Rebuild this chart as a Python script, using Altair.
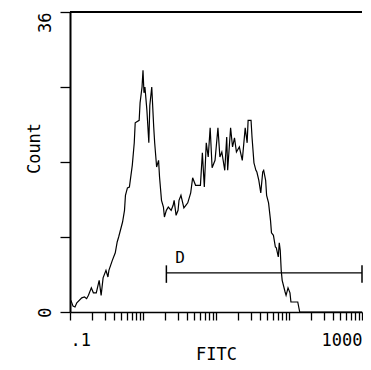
import altair as alt
import pandas as pd

# Histogram trace (FITC intensity, event count)
fitc = [0.103, 0.110, 0.117, 0.124, 0.145, 0.158, 0.169, 0.179, 0.196, 0.209,
        0.229, 0.251, 0.267, 0.284, 0.311, 0.331, 0.341, 0.380, 0.417, 0.443,
        0.464, 0.525, 0.558, 0.575, 0.612, 0.651, 0.713, 0.759, 0.782, 0.886,
        0.912, 0.970, 1.000, 1.031, 1.063, 1.131, 1.202, 1.240, 1.318, 1.402,
        1.445, 1.537, 1.634, 1.685, 1.792, 1.905, 1.965, 2.089, 2.222, 2.432,
        2.586, 2.671, 2.840, 3.020, 3.114, 3.311, 3.631, 3.861, 4.105, 4.502,
        4.786, 5.248, 6.119, 6.506, 6.918, 7.356, 7.822, 8.318, 8.845, 9.698,
        10.63, 11.31, 12.02, 13.18, 14.02, 14.45, 15.85, 16.85, 17.92, 19.05,
        20.89, 22.91, 25.12, 26.71, 27.54, 30.20, 31.14, 33.11, 35.21, 36.31,
        38.61, 41.05, 43.65, 45.02, 47.86, 49.35, 52.48, 55.81, 57.54, 61.19,
        65.06, 67.08, 71.34, 73.56, 75.86, 78.22, 80.66, 88.45, 91.20, 96.98,
        103.1, 106.3, 131.8, 140.2, 1000]
counts = [1.4, 0.7, 0.6, 1.1, 1.7, 1.8, 1.6, 2.0, 2.9, 2.3,
          2.3, 3.8, 2.0, 4.1, 5.0, 4.2, 5.0, 6.2, 7.1, 8.4,
          9.0, 10.8, 12.2, 14.0, 14.9, 15.0, 17.6, 20.3, 22.7, 23.0,
          25.1, 27.0, 29.0, 26.3, 27.0, 24.2, 20.3, 24.8, 27.0, 22.2,
          20.3, 17.4, 18.2, 16.2, 13.4, 12.6, 11.4, 12.2, 12.6, 12.2,
          12.8, 13.4, 11.6, 12.2, 13.4, 14.0, 12.5, 12.8, 13.1, 14.3,
          16.1, 15.2, 15.2, 19.1, 15.0, 20.3, 18.6, 22.1, 17.3, 18.2,
          22.1, 18.6, 19.2, 17.0, 21.0, 17.0, 22.1, 19.8, 20.9, 19.2,
          19.8, 18.2, 22.1, 20.3, 23.0, 23.0, 21.0, 17.9, 17.0, 16.8,
          15.8, 14.3, 16.8, 17.0, 15.8, 14.0, 13.1, 11.0, 9.5, 9.2,
          7.8, 7.7, 6.6, 8.3, 7.4, 5.0, 3.8, 2.4, 2.0, 2.9,
          2.3, 1.2, 1.2, 0.0, 0.0]

# Gate "D"
gate_label = ["D"]
gate_start = [2.09]
gate_end = [1000]
gate_level = [4.7]
gate_tick_low = [3.5]
gate_tick_high = [5.6]
label_x = [3.21]
label_y = [5.9]

# Axes
x_domain = [0.1, 1000]
y_domain = [0, 36]
x_ticks = [m * 10 ** e for e in range(-1, 3) for m in range(1, 10)] + [1000]
y_ticks = [0, 9, 18, 27, 36]

FONT = "DejaVu Sans Mono"

hist = pd.DataFrame({"FITC": fitc, "Count": counts})
gate = pd.DataFrame({"x": gate_start, "x2": gate_end, "y": gate_level})
gate_ends = pd.DataFrame({"x": gate_start + gate_end,
                          "lo": gate_tick_low * 2, "hi": gate_tick_high * 2})
lab = pd.DataFrame({"x": label_x, "y": label_y, "t": gate_label})

xscale = alt.Scale(type="log", domain=x_domain, nice=False)
yscale = alt.Scale(domain=y_domain, nice=False)

xaxis = alt.Axis(
    values=x_ticks, tickSize=8, tickColor="black", tickWidth=1.3,
    domainColor="black", domainWidth=1.5, grid=False,
    labelExpr="abs(datum.value-0.1)<1e-9 ? '.1' : (abs(datum.value-1000)<1e-6 ? '1000' : '')",
    labelOverlap=False, labelFont=FONT, labelFontSize=17, labelColor="black",
    labelPadding=12,
    labelAlign={"condition": {"test": "datum.value > 100", "value": "right"}, "value": "left"},
    title="FITC", titleFont=FONT, titleFontSize=17, titleFontWeight="normal",
    titleColor="black", titleBaseline="top", titleY=34,
)
yaxis = alt.Axis(
    values=y_ticks, tickSize=10, tickColor="black", tickWidth=1.3,
    domainColor="black", domainWidth=2, grid=False,
    labelExpr="datum.value == 0 || datum.value == 36 ? datum.label : ''",
    labelOverlap=False, labelFont=FONT, labelFontSize=17, labelColor="black",
    labelAngle=270, labelBaseline="bottom", labelPadding=6,
    labelAlign={"condition": {"test": "datum.value == 36", "value": "right"}, "value": "center"},
    title="Count", titleFont=FONT, titleFontSize=17, titleFontWeight="normal",
    titleColor="black", titleAngle=270, titleBaseline="bottom",
    titleX=-27, titleY=136,
)

line = alt.Chart(hist).mark_line(color="black", strokeWidth=1.2).encode(
    x=alt.X("FITC:Q", scale=xscale, axis=xaxis),
    y=alt.Y("Count:Q", scale=yscale, axis=yaxis),
)

top = alt.Chart(hist).mark_rule(color="black", strokeWidth=1).encode(
    y=alt.datum(36, scale=yscale)
)

gate_line = alt.Chart(gate).mark_rule(color="black", strokeWidth=1.2).encode(
    x=alt.X("x:Q", scale=xscale), x2="x2:Q", y=alt.Y("y:Q", scale=yscale)
)
gate_ticks = alt.Chart(gate_ends).mark_rule(color="black", strokeWidth=1.5).encode(
    x=alt.X("x:Q", scale=xscale), y=alt.Y("lo:Q", scale=yscale), y2="hi:Q"
)
gate_text = alt.Chart(lab).mark_text(
    font=FONT, fontSize=16, color="black", align="center", baseline="alphabetic"
).encode(
    x=alt.X("x:Q", scale=xscale), y=alt.Y("y:Q", scale=yscale), text="t:N"
)

chart = alt.layer(line, top, gate_line, gate_ticks, gate_text).properties(
    width=292, height=300,
    autosize=alt.AutoSizeParams(type="none"),
    padding={"left": 62, "top": 4, "right": 1, "bottom": 50},
    background="white",
).configure_view(stroke=None)

chart.save("out.html", embed_options={"renderer": "svg", "actions": False})
